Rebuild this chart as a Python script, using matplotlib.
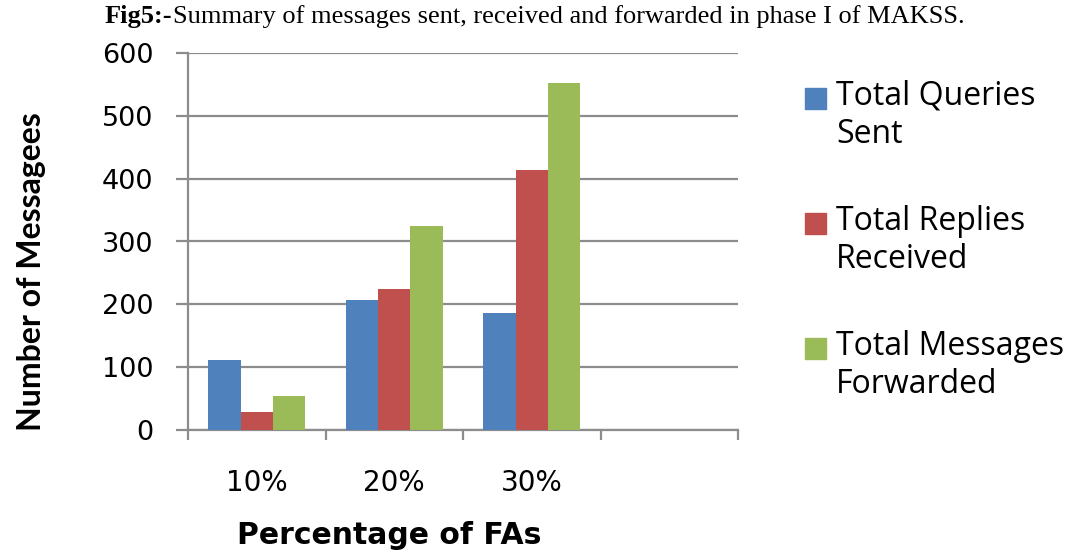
import numpy as np
import matplotlib.pyplot as plt
from matplotlib.patches import Rectangle

categories = ['10%', '20%', '30%', '']
series_names = ['Total Queries\nSent', 'Total Replies\nReceived', 'Total Messages\nForwarded']
queries_sent = [112, 207, 187, 0]
replies_received = [29, 225, 414, 0]
messages_forwarded = [54, 325, 552, 0]
y_ticks = [0, 100, 200, 300, 400, 500, 600]

colors = ['#4F81BD', '#C0504D', '#9BBB59']
grid_color = '#8C8C8C'

W, H = 1083, 552
fig = plt.figure(figsize=(W / 100, H / 100), dpi=100)
ax = fig.add_axes([188/W, 122/H, 550/W, 377/H])

x = np.arange(len(categories))
w = 0.235
series = [queries_sent, replies_received, messages_forwarded]
for i, vals in enumerate(series):
    # the 4th category is empty in the original
    ax.bar(x[:3] + (i - 1) * w, vals[:3], width=w, color=colors[i], zorder=3)

ax.set_xlim(-0.5, len(categories) - 0.5)
ax.set_ylim(0, 600)
ax.set_yticks(y_ticks)
ax.set_yticklabels([str(t) for t in y_ticks], family='DejaVu Sans', fontsize=19.5)
ax.yaxis.grid(True, color=grid_color, linewidth=1.6, zorder=0)
ax.set_xticks(x)
ax.set_xticklabels(categories, family='DejaVu Sans', fontsize=20)
ax.set_xticks(np.arange(len(categories) + 1) - 0.5, minor=True)
ax.tick_params(axis='x', which='major', length=0, pad=28)
ax.tick_params(axis='x', which='minor', length=7, width=1.6, color=grid_color, direction='out')
ax.tick_params(axis='y', length=9, width=1.6, color=grid_color, pad=16)

for side in ['top', 'right']:
    ax.spines[side].set_visible(False)
for side in ['left', 'bottom']:
    ax.spines[side].set_color(grid_color)
    ax.spines[side].set_linewidth(1.6)

fig.text(32/W, 1 - 272/H, 'Number of Messagees', rotation=90, ha='center', va='center',
         family='Lato', fontweight='bold', fontsize=23)
fig.text(389/W, 1 - 535/H, 'Percentage of FAs', ha='center', va='center',
         family='DejaVu Sans', fontweight='bold', fontsize=21.5)

# caption above the chart
t1 = fig.text(105/W, 1 - 17/H, 'Fig5:-', ha='left', va='center',
              family='Liberation Serif', fontweight='bold', fontsize=19)
fig.canvas.draw()
bb = t1.get_window_extent()
fig.text(bb.x1 / W, 1 - 17/H,
         'Summary of messages sent, received and forwarded in phase I of MAKSS.',
         ha='left', va='center', family='Liberation Serif', fontsize=19)

# legend drawn by hand so the square sits on the first text line
for i, name in enumerate(series_names):
    y_top = 96 + i * 125
    fig.patches.append(Rectangle((805/W, 1 - (y_top + 13)/H), 21/W, 21/H,
                                 transform=fig.transFigure, color=colors[i]))
    fig.text(836/W, 1 - (y_top - 16)/H, name, ha='left', va='top',
             family='Open Sans', fontsize=23, linespacing=1.2)

fig.savefig('out.png', dpi=100)
